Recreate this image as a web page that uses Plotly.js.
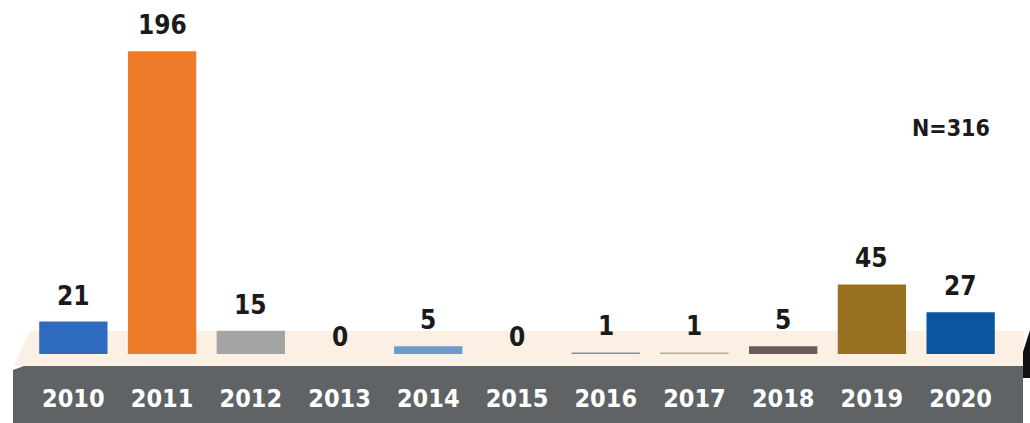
<!DOCTYPE html>
<html>
<head>
<meta charset="utf-8">
<script src="https://cdn.plot.ly/plotly-3.0.1.min.js"></script>
<style>html,body{margin:0;padding:0;background:#fff;}#chart{width:1030px;height:423px;}</style>
</head>
<body>
<div id="chart"></div>
<script>
const years = ['2010','2011','2012','2013','2014','2015','2016','2017','2018','2019','2020'];
const counts = [21, 196, 15, 0, 5, 0, 1, 1, 5, 45, 27];
const barColors = ['#2e6bbf','#ee7b2a','#a4a4a4','#a4a4a4','#6f9bcb','#8c8c8c','#8d8d8d','#b7aa9a','#6b5c5c','#98701f','#0c559f'];
const totalLabel = 'N=316';

const W = 1030, H = 423;
const M = {l: 29, r: 25, t: 0, b: 69};
const PW = W - M.l - M.r, PH = H - M.t - M.b;
const px = x => (x - M.l) / PW;
const py = y => (M.t + PH - y) / PH;

const numFont = 'DejaVu Sans Condensed, DejaVu Sans, sans-serif';

const trace = {
  type: 'bar',
  x: years,
  y: counts,
  marker: {color: barColors, line: {width: 0}},
  hoverinfo: 'skip'
};

// category axis: annotation x given as category index
const annotations = years.map((yr, i) => ({
  x: i, y: counts[i], xref: 'x', yref: 'y',
  text: String(counts[i]), showarrow: false,
  yanchor: 'bottom', yshift: counts[i] === 0 ? 0 : 9,
  font: {family: numFont, size: 26, color: '#1a1a1a', weight: 'bold'}
}));
annotations.push({
  x: px(951), y: py(128), xref: 'paper', yref: 'paper',
  text: totalLabel, showarrow: false, xanchor: 'center', yanchor: 'middle',
  font: {family: numFont, size: 23, color: '#1a1a1a', weight: 'bold'}
});

const shapes = [
  {type: 'path', xref: 'paper', yref: 'paper', layer: 'below', line: {width: 0},
   fillcolor: '#fcefe4',
   path: `M ${px(30)} ${py(331)} L ${px(1024)} ${py(331)} L ${px(1024)} ${py(366)} L ${px(14)} ${py(366)} Z`},
  {type: 'path', xref: 'paper', yref: 'paper', layer: 'below', line: {width: 0},
   fillcolor: '#5f6365',
   path: `M ${px(24)} ${py(366)} L ${px(1023)} ${py(366)} L ${px(1023)} ${py(423)} L ${px(13)} ${py(423)} L ${px(13)} ${py(370)} Z`},
  {type: 'path', xref: 'paper', yref: 'paper', layer: 'above', line: {width: 0},
   fillcolor: '#111111',
   path: `M ${px(1030)} ${py(330)} L ${px(1030)} ${py(378)} L ${px(1023)} ${py(378)} L ${px(1023)} ${py(352)} Z`}
];

const layout = {
  width: W, height: H,
  margin: M,
  paper_bgcolor: '#ffffff',
  plot_bgcolor: 'rgba(0,0,0,0)',
  showlegend: false,
  bargap: 0.23,
  xaxis: {
    type: 'category',
    categoryorder: 'array', categoryarray: years,
    range: [-0.5, years.length - 0.5], autorange: false,
    showgrid: false, zeroline: false, showline: false,
    ticks: '', ticklabelstandoff: 27,
    tickfont: {family: numFont, size: 25, color: '#ffffff', weight: 'bold'}
  },
  yaxis: {
    range: [0, PH / 1.545], autorange: false,
    showgrid: false, zeroline: false, showline: false,
    showticklabels: false, ticks: ''
  },
  shapes: shapes,
  annotations: annotations
};

Plotly.newPlot('chart', [trace], layout, {displayModeBar: false, staticPlot: true});
</script>
</body>
</html>
